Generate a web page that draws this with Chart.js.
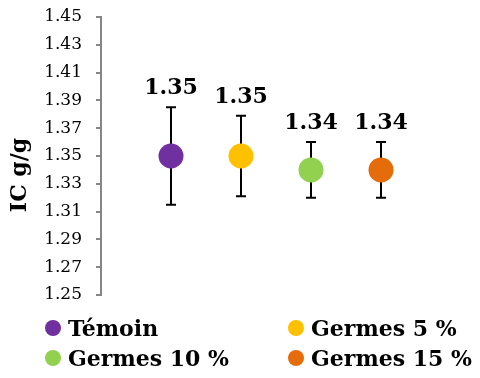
<!DOCTYPE html>
<html><head><meta charset="utf-8">
<script src="https://cdn.jsdelivr.net/npm/chart.js@4"></script>
<style>
html,body{margin:0;padding:0;background:#fff;}
#wrap{position:relative;width:480px;height:378px;}
#legend{position:absolute;left:45px;top:313px;display:grid;grid-template-columns:243px auto;grid-auto-rows:30px;font-family:"DejaVu Serif",serif;font-weight:bold;font-size:22px;color:#000;}
.li{display:flex;align-items:center;white-space:nowrap;}
.dot{width:16px;height:16px;border-radius:50%;margin-right:7px;flex:none;}
</style></head>
<body><div id="wrap"><canvas id="c" width="480" height="378"></canvas><div id="legend"></div></div>
<script>
const categories = ["Témoin", "Germes 5 %", "Germes 10 %", "Germes 15 %"];
const means = [1.35, 1.35, 1.34, 1.34];
const errors = [0.035, 0.029, 0.02, 0.02];
const colors = ["#7030A0", "#FFC000", "#92D050", "#E46C0A"];
const yTicks = [1.25, 1.27, 1.29, 1.31, 1.33, 1.35, 1.37, 1.39, 1.41, 1.43, 1.45];

const datasets = categories.map((c, i) => ({
  label: c,
  data: [{x: i + 1, y: means[i], err: errors[i]}],
  backgroundColor: colors[i],
  borderWidth: 0,
  pointRadius: 12.5,
  pointHoverRadius: 12.5,
  showLine: false
}));

const errorBars = {
  id: 'errorBars',
  beforeDatasetsDraw(chart) {
    const ctx = chart.ctx, xs = chart.scales.x, ys = chart.scales.y;
    ctx.save();
    ctx.strokeStyle = '#000'; ctx.lineWidth = 2;
    chart.data.datasets.forEach(ds => {
      ds.data.forEach(p => {
        const x = xs.getPixelForValue(p.x);
        const t = ys.getPixelForValue(p.y + p.err), b = ys.getPixelForValue(p.y - p.err);
        ctx.beginPath();
        ctx.moveTo(x, t); ctx.lineTo(x, b);
        ctx.moveTo(x - 5, t); ctx.lineTo(x + 5, t);
        ctx.moveTo(x - 5, b); ctx.lineTo(x + 5, b);
        ctx.stroke();
      });
    });
    ctx.restore();
  },
  afterDatasetsDraw(chart) {
    const ctx = chart.ctx, xs = chart.scales.x, ys = chart.scales.y;
    ctx.save();
    ctx.fillStyle = '#000';
    ctx.font = 'bold 22px "DejaVu Serif"';
    ctx.textAlign = 'center'; ctx.textBaseline = 'alphabetic';
    chart.data.datasets.forEach(ds => {
      ds.data.forEach(p => {
        const x = xs.getPixelForValue(p.x);
        const t = ys.getPixelForValue(p.y + p.err);
        ctx.fillText(p.y.toFixed(2), x, t - 13);
      });
    });
    const a = chart.chartArea;
    ctx.translate(20, (a.top + a.bottom) / 2 + 19);
    ctx.rotate(-Math.PI / 2);
    ctx.font = 'bold 22px "DejaVu Serif"';
    ctx.textBaseline = 'middle';
    ctx.fillText('IC g/g', 0, 0);
    ctx.restore();
  }
};

new Chart(document.getElementById('c'), {
  type: 'scatter',
  data: {datasets},
  options: {
    responsive: false,
    animation: false,
    events: [],
    layout: {autoPadding: false, padding: {left: 0, right: 29, top: 17, bottom: 83}},
    plugins: {legend: {display: false}, tooltip: {enabled: false}},
    scales: {
      x: {type: 'linear', min: 0, max: 5, display: false},
      y: {
        min: 1.25, max: 1.45,
        afterBuildTicks(s) { s.ticks = yTicks.map(v => ({value: v})); },
        afterFit(s) { s.width = 101; s.paddingTop = 0; s.paddingBottom = 0; },
        ticks: {
          padding: 14, color: '#000',
          font: {family: '"DejaVu Serif"', size: 17},
          callback: v => v.toFixed(2)
        },
        grid: {drawOnChartArea: false, color: '#868686', tickLength: 5, lineWidth: 2},
        border: {color: '#868686', width: 2}
      }
    }
  },
  plugins: [errorBars]
});

const lg = document.getElementById('legend');
categories.forEach((c, i) => {
  const d = document.createElement('div'); d.className = 'li';
  const s = document.createElement('span'); s.className = 'dot'; s.style.background = colors[i];
  d.appendChild(s); d.appendChild(document.createTextNode(c));
  lg.appendChild(d);
});
</script></body></html>
